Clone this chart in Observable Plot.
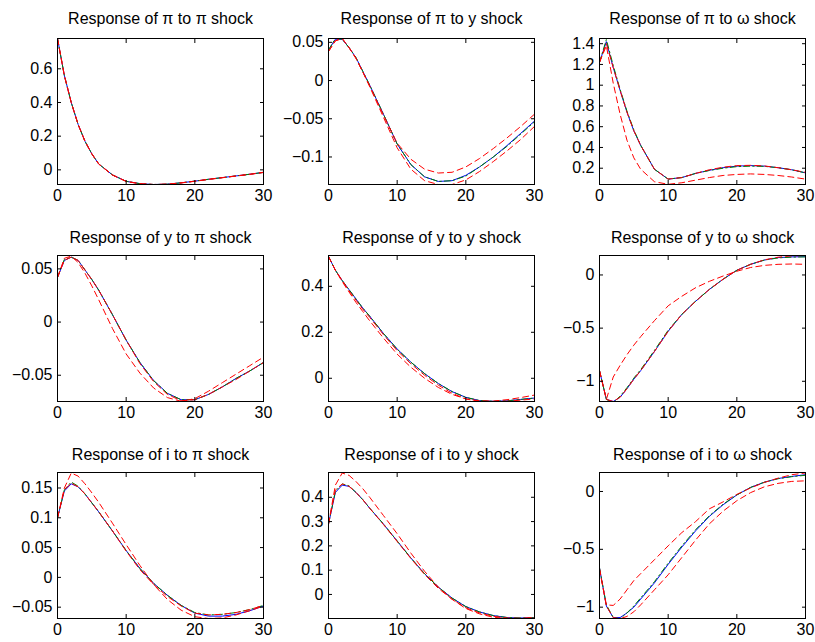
<!DOCTYPE html>
<html><head><meta charset="utf-8">
<script src="https://cdn.jsdelivr.net/npm/d3@7"></script>
<script src="https://cdn.jsdelivr.net/npm/@observablehq/plot@0.6"></script>
<style>
body{margin:0;background:#fff;}
#chart{position:relative;width:815px;height:642px;overflow:hidden;background:#fff;}
#chart svg{position:absolute;overflow:visible;background:transparent;}
</style></head><body><div id="chart"></div>
<script>
// horizons (periods after shock)
const steps = [0,1,2,3,4,5,6,8,10,12,14,16,18,20,22,24,26,28,30];
const xTicks = [0,10,20,30];
const titles = [
  "Response of π to π shock","Response of π to y shock","Response of π to ω shock",
  "Response of y to π shock","Response of y to y shock","Response of y to ω shock",
  "Response of i to π shock","Response of i to y shock","Response of i to ω shock"
];
const yDomains = [
  [-0.087,0.78],[-0.136,0.055],[0.043,1.45],
  [-0.0747,0.0626],[-0.101,0.534],[-1.19,0.183],
  [-0.069,0.176],[-0.099,0.502],[-1.098,0.164]
];
const yTicks = [
  [0,0.2,0.4,0.6],[-0.1,-0.05,0,0.05],[0.2,0.4,0.6,0.8,1,1.2,1.4],
  [-0.05,0,0.05],[0,0.2,0.4],[-1,-0.5,0],
  [-0.05,0,0.05,0.1,0.15],[0,0.1,0.2,0.3,0.4],[-1,-0.5,0]
];

// panel 1: pi to pi
const blue1 = [0.78,0.56,0.40,0.27,0.17,0.095,0.035,-0.03,-0.068,-0.082,-0.087,-0.085,-0.077,-0.067,-0.056,-0.046,-0.036,-0.026,-0.015];
const green1 = [0.78,0.56,0.40,0.27,0.17,0.095,0.035,-0.03,-0.068,-0.082,-0.087,-0.085,-0.077,-0.067,-0.056,-0.046,-0.036,-0.026,-0.015];
const redA1 = [0.78,0.56,0.40,0.27,0.17,0.095,0.035,-0.03,-0.068,-0.082,-0.087,-0.085,-0.077,-0.067,-0.056,-0.046,-0.036,-0.026,-0.014];
const redB1 = [0.78,0.56,0.40,0.27,0.17,0.095,0.035,-0.031,-0.069,-0.083,-0.087,-0.085,-0.078,-0.068,-0.057,-0.047,-0.037,-0.027,-0.016];
// panel 2: pi to y
const blue2 = [0.04,0.054,0.054,0.043,0.03,0.012,-0.006,-0.044,-0.083,-0.11,-0.126,-0.132,-0.131,-0.124,-0.113,-0.1,-0.085,-0.069,-0.053];
const green2 = [0.04,0.055,0.054,0.043,0.03,0.012,-0.006,-0.044,-0.083,-0.11,-0.126,-0.132,-0.131,-0.125,-0.113,-0.1,-0.086,-0.07,-0.054];
const redA2 = [0.038,0.052,0.055,0.043,0.029,0.011,-0.007,-0.045,-0.082,-0.103,-0.116,-0.121,-0.12,-0.113,-0.102,-0.089,-0.075,-0.06,-0.044];
const redB2 = [0.038,0.052,0.055,0.043,0.029,0.011,-0.008,-0.048,-0.088,-0.116,-0.131,-0.136,-0.136,-0.13,-0.119,-0.106,-0.092,-0.077,-0.06];
// panel 3: pi to omega
const blue3 = [1.22,1.42,1.17,0.95,0.74,0.56,0.42,0.19,0.095,0.11,0.15,0.18,0.205,0.22,0.225,0.22,0.205,0.185,0.155];
const green3 = [1.22,1.44,1.19,0.96,0.75,0.57,0.42,0.19,0.095,0.11,0.15,0.178,0.2,0.215,0.22,0.218,0.205,0.185,0.155];
const redA3 = [1.22,1.40,1.17,0.95,0.74,0.56,0.42,0.19,0.095,0.11,0.15,0.185,0.21,0.225,0.228,0.222,0.205,0.185,0.16];
const redB3 = [1.22,1.38,1.02,0.72,0.47,0.3,0.19,0.07,0.045,0.06,0.085,0.11,0.13,0.14,0.145,0.14,0.13,0.115,0.095];
// panel 4: y to pi
const blue4 = [0.042,0.058,0.061,0.058,0.049,0.04,0.03,0.007,-0.017,-0.038,-0.055,-0.067,-0.073,-0.073,-0.068,-0.061,-0.053,-0.046,-0.038];
const green4 = [0.042,0.059,0.061,0.058,0.049,0.04,0.03,0.007,-0.017,-0.038,-0.055,-0.067,-0.073,-0.073,-0.068,-0.061,-0.053,-0.046,-0.038];
const redA4 = [0.042,0.06,0.062,0.056,0.046,0.034,0.021,-0.006,-0.03,-0.048,-0.062,-0.071,-0.0745,-0.072,-0.065,-0.057,-0.049,-0.041,-0.033];
const redB4 = [0.042,0.058,0.061,0.058,0.049,0.04,0.03,0.007,-0.017,-0.039,-0.056,-0.068,-0.074,-0.073,-0.068,-0.061,-0.054,-0.046,-0.038];
// panel 5: y to y
const blue5 = [0.53,0.47,0.425,0.385,0.345,0.305,0.27,0.195,0.127,0.07,0.02,-0.023,-0.058,-0.083,-0.097,-0.1,-0.098,-0.092,-0.086];
const green5 = [0.53,0.47,0.425,0.385,0.345,0.305,0.27,0.195,0.127,0.07,0.02,-0.023,-0.058,-0.083,-0.097,-0.1,-0.098,-0.092,-0.086];
const redA5 = [0.53,0.47,0.42,0.375,0.33,0.29,0.25,0.175,0.105,0.048,0.0,-0.04,-0.07,-0.09,-0.098,-0.099,-0.093,-0.084,-0.073];
const redB5 = [0.53,0.47,0.425,0.38,0.34,0.3,0.265,0.19,0.12,0.063,0.013,-0.03,-0.065,-0.09,-0.1,-0.101,-0.1,-0.095,-0.09];
// panel 6: y to omega
const blue6 = [-0.9,-1.17,-1.19,-1.15,-1.07,-0.98,-0.9,-0.72,-0.53,-0.37,-0.247,-0.136,-0.04,0.044,0.1,0.14,0.163,0.17,0.172];
const green6 = [-0.9,-1.17,-1.2,-1.14,-1.06,-0.97,-0.89,-0.71,-0.52,-0.37,-0.247,-0.136,-0.04,0.044,0.1,0.14,0.16,0.168,0.17];
const redA6 = [-0.9,-1.17,-0.96,-0.85,-0.75,-0.66,-0.58,-0.43,-0.29,-0.2,-0.12,-0.06,-0.01,0.035,0.07,0.09,0.1,0.103,0.1];
const redB6 = [-0.9,-1.17,-1.19,-1.15,-1.07,-0.98,-0.9,-0.72,-0.53,-0.37,-0.247,-0.136,-0.04,0.044,0.1,0.142,0.167,0.18,0.183];
// panel 7: i to pi
const blue7 = [0.1,0.145,0.157,0.152,0.14,0.125,0.11,0.078,0.045,0.015,-0.01,-0.03,-0.047,-0.06,-0.065,-0.065,-0.062,-0.056,-0.048];
const green7 = [0.1,0.147,0.16,0.153,0.14,0.125,0.11,0.078,0.045,0.015,-0.01,-0.03,-0.047,-0.059,-0.063,-0.062,-0.059,-0.054,-0.047];
const redA7 = [0.1,0.15,0.175,0.17,0.157,0.142,0.126,0.091,0.055,0.02,-0.012,-0.037,-0.055,-0.066,-0.069,-0.068,-0.063,-0.056,-0.048];
const redB7 = [0.1,0.147,0.158,0.152,0.14,0.125,0.11,0.078,0.044,0.013,-0.012,-0.032,-0.048,-0.06,-0.063,-0.062,-0.059,-0.054,-0.047];
// panel 8: i to y
const blue8 = [0.29,0.42,0.45,0.445,0.42,0.39,0.355,0.29,0.22,0.15,0.085,0.03,-0.015,-0.05,-0.072,-0.087,-0.095,-0.097,-0.095];
const green8 = [0.29,0.425,0.455,0.447,0.42,0.39,0.355,0.29,0.22,0.15,0.085,0.03,-0.015,-0.05,-0.072,-0.087,-0.095,-0.097,-0.096];
const redA8 = [0.29,0.45,0.5,0.49,0.465,0.435,0.4,0.325,0.25,0.17,0.095,0.03,-0.02,-0.058,-0.08,-0.094,-0.099,-0.099,-0.095];
const redB8 = [0.29,0.43,0.455,0.445,0.42,0.39,0.355,0.288,0.218,0.148,0.082,0.025,-0.02,-0.055,-0.076,-0.09,-0.097,-0.098,-0.096];
// panel 9: i to omega
const blue9 = [-0.66,-0.99,-1.09,-1.09,-1.05,-1.0,-0.93,-0.79,-0.63,-0.48,-0.34,-0.215,-0.115,-0.03,0.035,0.08,0.112,0.13,0.145];
const green9 = [-0.66,-0.98,-1.09,-1.1,-1.05,-0.99,-0.92,-0.78,-0.62,-0.47,-0.33,-0.21,-0.11,-0.03,0.035,0.08,0.11,0.128,0.14];
const redA9 = [-0.67,-0.98,-0.985,-0.93,-0.85,-0.77,-0.71,-0.59,-0.47,-0.355,-0.26,-0.15,-0.09,-0.025,0.03,0.078,0.115,0.145,0.16];
const redB9 = [-0.67,-0.99,-1.09,-1.1,-1.08,-1.04,-0.98,-0.85,-0.72,-0.57,-0.42,-0.28,-0.17,-0.08,-0.01,0.04,0.07,0.087,0.092];

const blues = [blue1,blue2,blue3,blue4,blue5,blue6,blue7,blue8,blue9];
const greens = [green1,green2,green3,green4,green5,green6,green7,green8,green9];
const redAs = [redA1,redA2,redA3,redA4,redA5,redA6,redA7,redA8,redA9];
const redBs = [redB1,redB2,redB3,redB4,redB5,redB6,redB7,redB8,redB9];

const colLeft = [57, 328, 599];
const rowTop = [38, 255, 472];
const titleDy = [-26, -24, -24];
const fw = 206, fh = 146;
const mL = 55, mR = 14, mT = 36, mB = 28;
const fmt = d => String(d).replace("-", "\u2212");
const chart = document.getElementById("chart");

for (let i = 0; i < 9; i++) {
  const r = Math.floor(i / 3), c = i % 3;
  const svg = Plot.plot({
    width: fw + mL + mR,
    height: fh + mT + mB,
    marginLeft: mL, marginRight: mR, marginTop: mT, marginBottom: mB,
    x: {domain: [0, 30]},
    y: {domain: yDomains[i]},
    style: {fontFamily: "'Liberation Sans', Arial, sans-serif", fontSize: "16px", color: "black", background: "transparent", overflow: "visible"},
    marks: [
      Plot.line(steps, {x: steps, y: blues[i], stroke: "#0000ff", strokeWidth: 1, clip: true}),
      Plot.line(steps, {x: steps, y: greens[i], stroke: "#008000", strokeWidth: 1, strokeDasharray: "6,3,1.5,3", clip: true}),
      Plot.line(steps, {x: steps, y: redAs[i], stroke: "#ff0000", strokeWidth: 1, strokeDasharray: "6,4", clip: true}),
      Plot.line(steps, {x: steps, y: redBs[i], stroke: "#ff0000", strokeWidth: 1, strokeDasharray: "6,4", clip: true}),
      Plot.frame({stroke: "black", strokeWidth: 1}),
      Plot.axisX({ticks: xTicks, tickSize: -4, tickPadding: 9, tickFormat: fmt, label: null}),
      Plot.axisX({anchor: "top", ticks: xTicks, tickSize: -4, tickFormat: () => "", label: null}),
      Plot.axisY({ticks: yTicks[i], tickSize: -4, tickPadding: 9, tickFormat: fmt, label: null}),
      Plot.axisY({anchor: "right", ticks: yTicks[i], tickSize: -4, tickFormat: () => "", label: null}),
      Plot.text([titles[i]], {text: d => d, frameAnchor: "top", dy: titleDy[r], fontSize: 16})
    ]
  });
  svg.style.left = (colLeft[c] - mL) + "px";
  svg.style.top = (rowTop[r] - mT) + "px";
  chart.appendChild(svg);
}
</script></body></html>
